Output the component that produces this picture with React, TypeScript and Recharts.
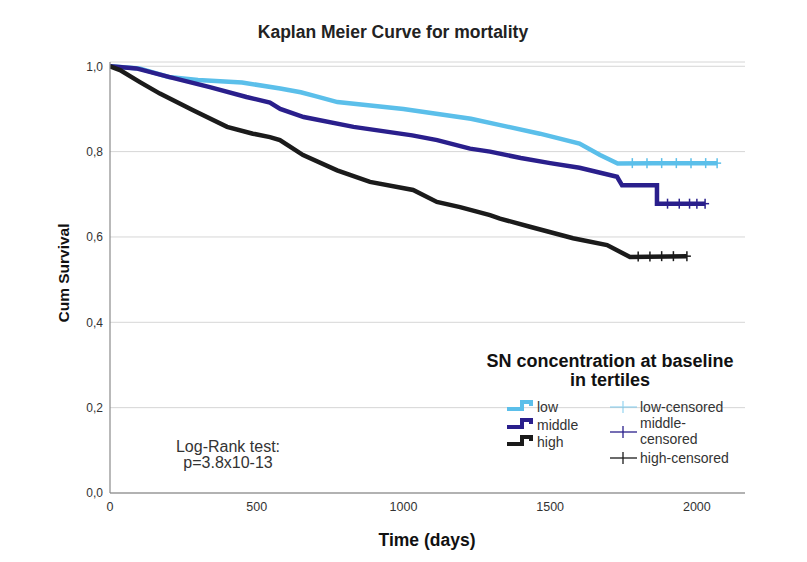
import React from "react";
import {
  ComposedChart,
  Line,
  Scatter,
  XAxis,
  YAxis,
  CartesianGrid,
} from "recharts";

// ---- data ----
const lowDays = [0, 100, 200, 300, 450, 580, 650, 700, 775, 1000, 1100, 1230, 1330, 1465, 1600, 1670, 1730, 1850, 2069];
const lowSurv = [1.0, 0.995, 0.975, 0.968, 0.962, 0.948, 0.939, 0.93, 0.916, 0.9, 0.89, 0.877, 0.862, 0.842, 0.819, 0.792, 0.772, 0.773, 0.773];

const middleDays = [0, 90, 200, 340, 465, 545, 580, 660, 830, 1030, 1115, 1227, 1295, 1400, 1500, 1600, 1728, 1745, 1864, 1864, 2028];
const middleSurv = [1.0, 0.995, 0.975, 0.951, 0.928, 0.915, 0.9, 0.881, 0.858, 0.838, 0.827, 0.807, 0.8, 0.785, 0.773, 0.762, 0.741, 0.721, 0.721, 0.678, 0.678];

const highDays = [0, 34, 102, 170, 283, 399, 487, 545, 579, 658, 774, 886, 1033, 1114, 1193, 1295, 1329, 1431, 1578, 1694, 1772, 1966];
const highSurv = [1.0, 0.991, 0.963, 0.936, 0.897, 0.858, 0.842, 0.834, 0.827, 0.792, 0.756, 0.729, 0.71, 0.682, 0.67, 0.651, 0.643, 0.624, 0.597, 0.581, 0.553, 0.555];

const lowCensoredDays = [1780, 1830, 1880, 1930, 1980, 2030, 2069];
const lowCensoredSurv = [0.773, 0.773, 0.773, 0.773, 0.773, 0.773, 0.773];
const middleCensoredDays = [1900, 1940, 1975, 2000, 2028];
const middleCensoredSurv = [0.678, 0.678, 0.678, 0.678, 0.678];
const highCensoredDays = [1800, 1840, 1880, 1920, 1966];
const highCensoredSurv = [0.554, 0.554, 0.555, 0.555, 0.555];

const xTicks = [0, 500, 1000, 1500, 2000];
const yTicks = [0, 0.2, 0.4, 0.6, 0.8, 1.0];

const seriesNames = ["low", "middle", "high"];
const censoredNames = ["low-censored", "middle-\ncensored", "high-censored"];
const colors = { low: "#5bbfea", middle: "#2a1f8c", high: "#1b1b1b" };

const toRows = (d: number[], s: number[]) => d.map((day, i) => ({ day, surv: s[i] }));
const lowData = toRows(lowDays, lowSurv);
const middleData = toRows(middleDays, middleSurv);
const highData = toRows(highDays, highSurv);
const lowCens = toRows(lowCensoredDays, lowCensoredSurv);
const middleCens = toRows(middleCensoredDays, middleCensoredSurv);
const highCens = toRows(highCensoredDays, highCensoredSurv);

const FONT = "'Liberation Sans', Arial, sans-serif";

const makeCross = (color: string) => (props: any) => {
  const { cx, cy } = props;
  if (cx == null || cy == null) return <g />;
  return (
    <g stroke={color} strokeWidth={1.5}>
      <line x1={cx - 4} x2={cx + 4} y1={cy} y2={cy} />
      <line x1={cx} x2={cx} y1={cy - 5} y2={cy + 5} />
    </g>
  );
};

const Overlay = () => {
  const itemY = [407, 425, 442];
  const cols = [colors.low, colors.middle, colors.high];
  return (
    <svg
      width={807}
      height={562}
      style={{ position: "absolute", left: 0, top: 0, pointerEvents: "none" }}
      fontFamily={FONT}
    >
      <text x={393} y={32} textAnchor="middle" dominantBaseline="central" fontSize={17.5} fontWeight="bold" fill="#222">
        Kaplan Meier Curve for mortality
      </text>
      <text
        x={63}
        y={273}
        textAnchor="middle"
        dominantBaseline="central"
        fontSize={15.5}
        fontWeight="bold"
        fill="#111"
        transform="rotate(-90 63 273)"
      >
        Cum Survival
      </text>
      <text x={427} y={540} textAnchor="middle" dominantBaseline="central" fontSize={17.5} fontWeight="bold" fill="#111">
        Time (days)
      </text>
      <text x={228} y={446} textAnchor="middle" dominantBaseline="central" fontSize={16} fill="#333">
        Log-Rank test:
      </text>
      <text x={228} y={462} textAnchor="middle" dominantBaseline="central" fontSize={16} fill="#333">
        p=3.8x10-13
      </text>
      <text x={610} y={361} textAnchor="middle" dominantBaseline="central" fontSize={18} fontWeight="bold" fill="#111">
        SN concentration at baseline
      </text>
      <text x={610} y={380} textAnchor="middle" dominantBaseline="central" fontSize={18} fontWeight="bold" fill="#111">
        in tertiles
      </text>
      {seriesNames.map((n, i) => (
        <g key={n}>
          <path
            d={`M507 ${itemY[i] + 2} H522 V${itemY[i] - 5} H531 V${itemY[i] - 1}`}
            fill="none"
            stroke={cols[i]}
            strokeWidth={4}
          />
          <text x={537} y={itemY[i]} dominantBaseline="central" fontSize={14} fill="#333">
            {n}
          </text>
        </g>
      ))}
      {[407, 432, 458].map((y, i) => (
        <g key={i} stroke={cols[i]} strokeWidth={1.3} opacity={i === 0 ? 0.6 : 1}>
          <line x1={610} x2={637} y1={y} y2={y} />
          <line x1={623} x2={623} y1={y - 6} y2={y + 6} />
        </g>
      ))}
      <text x={640} y={407} dominantBaseline="central" fontSize={14} fill="#333">
        {censoredNames[0]}
      </text>
      <text x={640} y={423} dominantBaseline="central" fontSize={14} fill="#333">
        {censoredNames[1].split("\n")[0]}
      </text>
      <text x={640} y={439} dominantBaseline="central" fontSize={14} fill="#333">
        {censoredNames[1].split("\n")[1]}
      </text>
      <text x={640} y={458} dominantBaseline="central" fontSize={14} fill="#333">
        {censoredNames[2]}
      </text>
    </svg>
  );
};

export default function App() {
  return (
    <div style={{ position: "absolute", left: 0, top: 0, width: 807, height: 562, background: "#fff", fontFamily: FONT }}>
      <ComposedChart
        width={807}
        height={562}
        margin={{ top: 62, right: 62, bottom: 39, left: 0 }}
      >
        <CartesianGrid horizontal={true} vertical={false} stroke="#d6d6d6" strokeWidth={1} />
        <XAxis
          type="number"
          dataKey="day"
          domain={[0, 2164]}
          ticks={xTicks}
          allowDataOverflow
          height={30}
          tickSize={0}
          tickMargin={9}
          axisLine={{ stroke: "#7a7a7a", strokeWidth: 1.2 }}
          tickLine={false}
          tick={{ fontSize: 12.5, fill: "#333", fontFamily: FONT }}
        />
        <YAxis
          type="number"
          dataKey="surv"
          domain={[0, 1.01]}
          ticks={yTicks}
          allowDataOverflow
          width={110}
          tickSize={0}
          tickMargin={7}
          axisLine={{ stroke: "#8a8a8a", strokeWidth: 1.2 }}
          tickLine={false}
          tickFormatter={(v: number) => v.toFixed(1).replace(".", ",")}
          tick={{ fontSize: 12, fill: "#333", fontFamily: FONT }}
        />
        <Line data={lowData} dataKey="surv" type="linear" stroke={colors.low} strokeWidth={4.5} dot={false} isAnimationActive={false} />
        <Line data={middleData} dataKey="surv" type="linear" stroke={colors.middle} strokeWidth={4.5} dot={false} isAnimationActive={false} />
        <Line data={highData} dataKey="surv" type="linear" stroke={colors.high} strokeWidth={4.5} dot={false} isAnimationActive={false} />
        <Scatter data={lowCens} dataKey="surv" shape={makeCross(colors.low)} isAnimationActive={false} />
        <Scatter data={middleCens} dataKey="surv" shape={makeCross(colors.middle)} isAnimationActive={false} />
        <Scatter data={highCens} dataKey="surv" shape={makeCross(colors.high)} isAnimationActive={false} />
      </ComposedChart>
      <Overlay />
    </div>
  );
}
